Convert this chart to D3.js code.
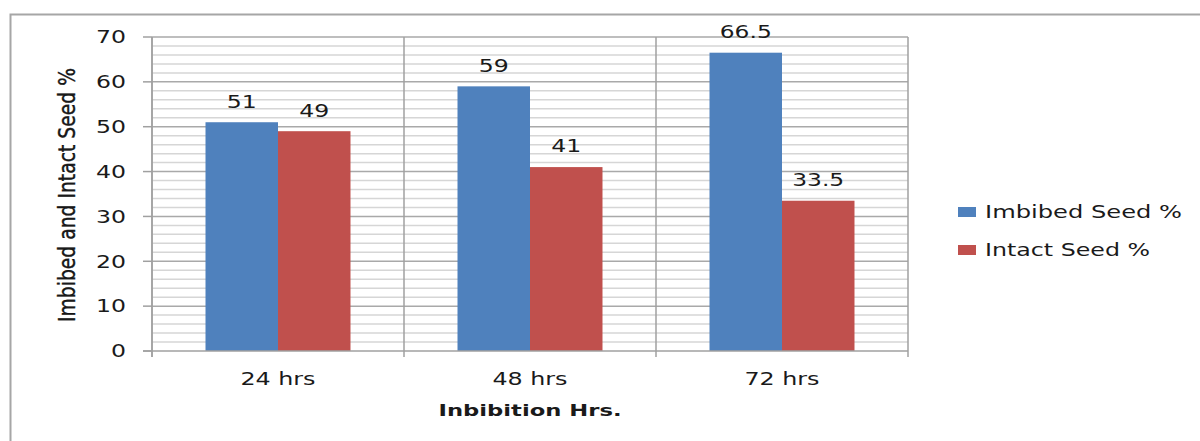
<!DOCTYPE html>
<html>
<head>
<meta charset="utf-8">
<script src="https://cdn.jsdelivr.net/npm/d3@7"></script>
<style>
  html, body { margin: 0; padding: 0; background: #fff; }
  svg { display: block; }
  text { font-family: "DejaVu Sans", Verdana, sans-serif; fill: #1a1a1a; }
</style>
</head>
<body>
<svg id="chart" width="1200" height="441"></svg>
<script>
// Germination test: share of seeds that imbibed water vs. stayed intact
const categories = ["24 hrs", "48 hrs", "72 hrs"];
const seriesNames = ["Imbibed Seed %", "Intact Seed %"];
const imbibed = [51, 59, 66.5];
const intact = [49, 41, 33.5];
const yTicks = [0, 10, 20, 30, 40, 50, 60, 70];
const colors = ["#4F81BD", "#C0504D"];

const svg = d3.select("#chart");

// Outer chart frame (runs off the right and bottom edges)
svg.append("rect")
  .attr("x", 10.5).attr("y", 14.5)
  .attr("width", 1300).attr("height", 500)
  .attr("fill", "none").attr("stroke", "#a6a6a6").attr("stroke-width", 2);

const plot = { left: 152, right: 908, top: 37, bottom: 351 };

const x = d3.scaleBand().domain(categories).range([plot.left, plot.right]).padding(0);
const xs = d3.scaleBand().domain(seriesNames).range([0, x.bandwidth()])
  .paddingInner(0).paddingOuter(0.738);
const y = d3.scaleLinear().domain([0, 70]).range([plot.bottom, plot.top]);

// Helper: text stretched horizontally to a given width
function label(g, str, px, py, size, width, anchor, weight) {
  const t = g.append("text")
    .attr("x", px).attr("y", py)
    .attr("dy", "0.36em")
    .attr("font-size", size)
    .attr("text-anchor", anchor || "middle")
    .text(str);
  if (weight) t.attr("font-weight", weight);
  if (width) t.attr("textLength", width).attr("lengthAdjust", "spacingAndGlyphs");
  return t;
}

// Minor gridlines every 2 units
const grid = svg.append("g");
grid.selectAll("line.minor")
  .data(d3.range(2, 70, 2).filter(v => v % 10 !== 0))
  .join("line")
  .attr("x1", plot.left).attr("x2", plot.right)
  .attr("y1", d => y(d)).attr("y2", d => y(d))
  .attr("stroke", "#d6d6d6").attr("stroke-width", 1.5);

// Major gridlines every 10 units
grid.selectAll("line.major")
  .data(yTicks.filter(v => v > 0))
  .join("line")
  .attr("x1", plot.left).attr("x2", plot.right)
  .attr("y1", d => y(d)).attr("y2", d => y(d))
  .attr("stroke", "#a9a9a9").attr("stroke-width", 1.5);

// Vertical dividers between categories, with tick stubs below the axis
const dividers = categories.map(c => x(c) + x.bandwidth()).concat([plot.left]);
grid.selectAll("line.vdiv")
  .data(dividers)
  .join("line")
  .attr("x1", d => d).attr("x2", d => d)
  .attr("y1", plot.top).attr("y2", plot.bottom + 6)
  .attr("stroke", "#a0a0a0").attr("stroke-width", 1.5);

// Bars
const bars = svg.append("g");
categories.forEach((c, i) => {
  [imbibed[i], intact[i]].forEach((v, j) => {
    bars.append("rect")
      .attr("x", x(c) + xs(seriesNames[j]))
      .attr("y", y(v))
      .attr("width", xs.bandwidth())
      .attr("height", y(0) - y(v))
      .attr("fill", colors[j]);
  });
});

// Axis lines
svg.append("line")
  .attr("x1", plot.left - 9).attr("x2", plot.right)
  .attr("y1", y(0)).attr("y2", y(0))
  .attr("stroke", "#a0a0a0").attr("stroke-width", 1.5);
svg.append("line")
  .attr("x1", plot.left).attr("x2", plot.left)
  .attr("y1", plot.top).attr("y2", plot.bottom + 6)
  .attr("stroke", "#a0a0a0").attr("stroke-width", 1.5);

// Y tick marks and labels
const yAxis = svg.append("g");
yTicks.forEach(v => {
  yAxis.append("line")
    .attr("x1", plot.left - 9).attr("x2", plot.left)
    .attr("y1", y(v)).attr("y2", y(v))
    .attr("stroke", "#a0a0a0").attr("stroke-width", 1.5);
  label(yAxis, String(v), 126, y(v), 17.5, v === 0 ? 15 : 30, "end");
});

// Value labels above bars
const vals = svg.append("g");
const charW = 15;
categories.forEach((c, i) => {
  [imbibed[i], intact[i]].forEach((v, j) => {
    const s = String(v);
    const w = s.replace(".", "").length * charW + (s.includes(".") ? 7 : 0);
    label(vals, s, x(c) + xs(seriesNames[j]) + xs.bandwidth() / 2, y(v) - 21, 17.5, w);
  });
});

// Category labels
const xAxis = svg.append("g");
categories.forEach(c => {
  label(xAxis, c, x(c) + x.bandwidth() / 2, 379, 17.5, 75);
});

// Axis titles
label(svg, "Inbibition Hrs.", (plot.left + plot.right) / 2, 410, 16.5, 183, "middle", "bold");

svg.append("text")
  .attr("transform", "translate(75,195) rotate(-90)")
  .attr("text-anchor", "middle")
  .attr("font-family", "'Liberation Sans Narrow', 'Liberation Sans', sans-serif")
  .attr("font-size", 23)
  .attr("fill", "#000")
  .attr("stroke", "#000")
  .attr("stroke-width", 0.35)
  .attr("textLength", 254)
  .attr("lengthAdjust", "spacingAndGlyphs")
  .text("Imbibed and Intact Seed %");

// Legend
const legend = svg.append("g");
const legendWidths = [197, 165];
seriesNames.forEach((name, j) => {
  const cy = 212 + j * 38;
  legend.append("rect")
    .attr("x", 958).attr("y", cy - 5)
    .attr("width", 18).attr("height", 10)
    .attr("fill", colors[j]);
  label(legend, name, 985, cy, 17.5, legendWidths[j], "start");
});
</script>
</body>
</html>
